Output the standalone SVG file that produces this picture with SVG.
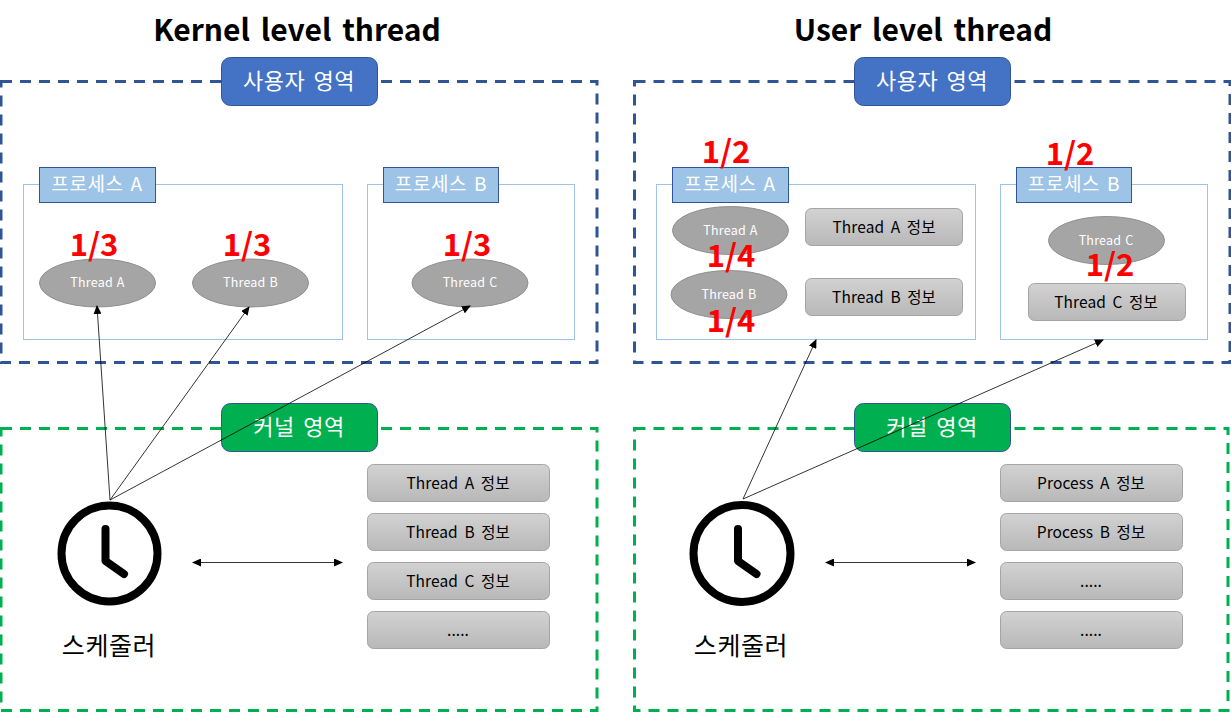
<svg xmlns="http://www.w3.org/2000/svg" width="1231" height="712" viewBox="0 0 1231 712">
<style>
text{font-family:"Noto Sans CJK KR","Noto Sans",sans-serif;text-anchor:middle}
.title{font-size:30px;font-weight:700;fill:#000;word-spacing:4px}
.ub{fill:none;stroke:#2f5597;stroke-width:3;stroke-dasharray:11 8}
.kb{fill:none;stroke:#00b050;stroke-width:3;stroke-dasharray:11 8}
.pill{stroke:#2f5597;stroke-width:1}
.pilltxt{font-size:22px;fill:#fff;word-spacing:3px;letter-spacing:.5px}
.proc{fill:#fff;stroke:#9dc3e6;stroke-width:1}
.ptab{fill:#9dc3e6;stroke:#2f5597;stroke-width:1}
.ptxt{font-size:19px;fill:#fff;letter-spacing:.6px;word-spacing:2px}
.th{fill:#a5a5a5;stroke:#8f8f8f;stroke-width:1}
.thtxt{font-size:12.500px;fill:#fff;letter-spacing:.2px;word-spacing:1px}
.info{fill:url(#g);stroke:#a5a5a5;stroke-width:1}
.itxt{font-size:15.500px;fill:#000;word-spacing:3px;letter-spacing:.1px}
.frac{font-size:31px;font-weight:700;fill:#f00}
.conn{stroke:#000;stroke-width:.8;fill:none;marker-end:url(#a)}
.both{marker-start:url(#as)}
.sched{font-size:25px;fill:#000;letter-spacing:.6px}
.clock{fill:none;stroke:#000;stroke-width:8}
.hand{fill:none;stroke:#000;stroke-width:8;stroke-linecap:round;stroke-linejoin:round}
</style>
<defs>
<linearGradient id="g" x1="0" y1="0" x2="0" y2="1"><stop offset="0" stop-color="#d2d2d2"/><stop offset="1" stop-color="#b8b8b8"/></linearGradient>
<marker id="a" markerUnits="userSpaceOnUse" markerWidth="9" markerHeight="8" refX="8" refY="4" orient="auto"><path d="M0 0L9 4L0 8Z" fill="#000"/></marker>
<marker id="as" markerUnits="userSpaceOnUse" markerWidth="9" markerHeight="8" refX="1" refY="4" orient="auto"><path d="M9 0L0 4L9 8Z" fill="#000"/></marker>
</defs>

<g id="title-kernel"><text class="title" x="297" y="41">Kernel level thread</text></g>
<g id="title-user"><text class="title" x="923" y="41">User level thread</text></g>

<g id="user-area-left"><rect class="ub" x="1" y="81.500" width="596" height="281"/></g>
<g id="kernel-area-left"><rect class="kb" x="1" y="428.500" width="596" height="282"/></g>
<g id="user-area-right"><rect class="ub" x="634.500" y="81.500" width="595.500" height="281"/></g>
<g id="kernel-area-right"><rect class="kb" x="634.500" y="428.500" width="593.500" height="282"/></g>

<g id="user-label-left"><rect class="pill" x="221.500" y="57.500" width="156" height="48" rx="9" fill="#4472c4"/><text class="pilltxt" x="299" y="89">사용자 영역</text></g>
<g id="user-label-right"><rect class="pill" x="854.500" y="57.500" width="156" height="48" rx="9" fill="#4472c4"/><text class="pilltxt" x="932" y="89">사용자 영역</text></g>
<g id="kernel-label-left"><rect class="pill" x="221.500" y="403.500" width="156" height="48" rx="9" fill="#00b050"/><text class="pilltxt" x="299" y="435">커널 영역</text></g>
<g id="kernel-label-right"><rect class="pill" x="854.500" y="403.500" width="156" height="48" rx="9" fill="#00b050"/><text class="pilltxt" x="932" y="435">커널 영역</text></g>

<g id="process-a-left"><rect class="proc" x="23.500" y="184.500" width="319" height="155"/><rect class="ptab" x="39.500" y="167.500" width="116" height="35"/><text class="ptxt" x="97" y="191">프로세스 A</text></g>
<g id="process-b-left"><rect class="proc" x="367.500" y="184.500" width="207" height="155"/><rect class="ptab" x="383.500" y="167.500" width="115" height="35"/><text class="ptxt" x="441" y="191">프로세스 B</text></g>
<g id="process-a-right"><rect class="proc" x="656.500" y="184.500" width="319" height="155"/><rect class="ptab" x="672.500" y="167.500" width="116" height="35"/><text class="ptxt" x="730" y="191">프로세스 A</text></g>
<g id="process-b-right"><rect class="proc" x="1000.500" y="184.500" width="207" height="155"/><rect class="ptab" x="1016.500" y="167.500" width="115" height="35"/><text class="ptxt" x="1074" y="191">프로세스 B</text></g>

<g id="thread-a-left"><ellipse class="th" cx="97.500" cy="283" rx="58" ry="24"/><text class="thtxt" x="97.500" y="287">Thread A</text></g>
<g id="thread-b-left"><ellipse class="th" cx="250.500" cy="283" rx="58" ry="24"/><text class="thtxt" x="250.500" y="287">Thread B</text></g>
<g id="thread-c-left"><ellipse class="th" cx="470" cy="283" rx="58" ry="24"/><text class="thtxt" x="470" y="287">Thread C</text></g>
<g id="thread-a-right"><ellipse class="th" cx="730.500" cy="230.500" rx="58" ry="24"/><text class="thtxt" x="730.500" y="235">Thread A</text></g>
<g id="thread-b-right"><ellipse class="th" cx="729" cy="294.500" rx="58" ry="24"/><text class="thtxt" x="729" y="299">Thread B</text></g>
<g id="thread-c-right"><ellipse class="th" cx="1106.500" cy="240.500" rx="58" ry="24"/><text class="thtxt" x="1106" y="245">Thread C</text></g>

<g id="info-ta-right"><rect class="info" x="805.500" y="208.500" width="157" height="37" rx="6"/><text class="itxt" x="884" y="233">Thread A 정보</text></g>
<g id="info-tb-right"><rect class="info" x="805.500" y="278.500" width="157" height="37" rx="6"/><text class="itxt" x="884" y="303">Thread B 정보</text></g>
<g id="info-tc-right"><rect class="info" x="1028.500" y="283.500" width="157" height="37" rx="6"/><text class="itxt" x="1106" y="308">Thread C 정보</text></g>

<g id="info-a-left"><rect class="info" x="367.500" y="464.500" width="182" height="37" rx="6"/><text class="itxt" x="458" y="489">Thread A 정보</text></g>
<g id="info-b-left"><rect class="info" x="367.500" y="513.500" width="182" height="37" rx="6"/><text class="itxt" x="458" y="538">Thread B 정보</text></g>
<g id="info-c-left"><rect class="info" x="367.500" y="562.500" width="182" height="37" rx="6"/><text class="itxt" x="458" y="587">Thread C 정보</text></g>
<g id="info-d-left"><rect class="info" x="367.500" y="611.500" width="182" height="37" rx="6"/><text class="itxt" x="458" y="636">.....</text></g>
<g id="info-a-right"><rect class="info" x="1000.500" y="464.500" width="182" height="37" rx="6"/><text class="itxt" x="1091" y="489">Process A 정보</text></g>
<g id="info-b-right"><rect class="info" x="1000.500" y="513.500" width="182" height="37" rx="6"/><text class="itxt" x="1091" y="538">Process B 정보</text></g>
<g id="info-c-right"><rect class="info" x="1000.500" y="562.500" width="182" height="37" rx="6"/><text class="itxt" x="1091" y="587">.....</text></g>
<g id="info-d-right"><rect class="info" x="1000.500" y="611.500" width="182" height="37" rx="6"/><text class="itxt" x="1091" y="636">.....</text></g>

<g id="scheduler-left"><circle class="clock" cx="109.500" cy="553.500" r="48"/><path class="hand" d="M105.500 529V561L124 574"/><text class="sched" x="109" y="655">스케줄러</text></g>
<g id="scheduler-right"><circle class="clock" cx="742" cy="553.500" r="48.500"/><path class="hand" d="M738 529V561L756.500 574"/><text class="sched" x="741" y="655">스케줄러</text></g>

<g id="connectors">
<path class="conn" d="M110 500L97 306"/>
<path class="conn" d="M110 500L249 307"/>
<path class="conn" d="M110 500L470 306"/>
<path class="conn both" d="M193 562.500H342"/>
<path class="conn" d="M743 499L816 340"/>
<path class="conn" d="M743 499L1103 340"/>
<path class="conn both" d="M826 562.500H975"/>
</g>

<g id="fractions">
<text class="frac" x="94" y="256">1/3</text>
<text class="frac" x="247" y="256">1/3</text>
<text class="frac" x="467" y="256">1/3</text>
<text class="frac" x="726" y="163">1/2</text>
<text class="frac" x="1070" y="165">1/2</text>
<text class="frac" x="731" y="267">1/4</text>
<text class="frac" x="731" y="332">1/4</text>
<text class="frac" x="1110" y="276">1/2</text>
</g>
</svg>
